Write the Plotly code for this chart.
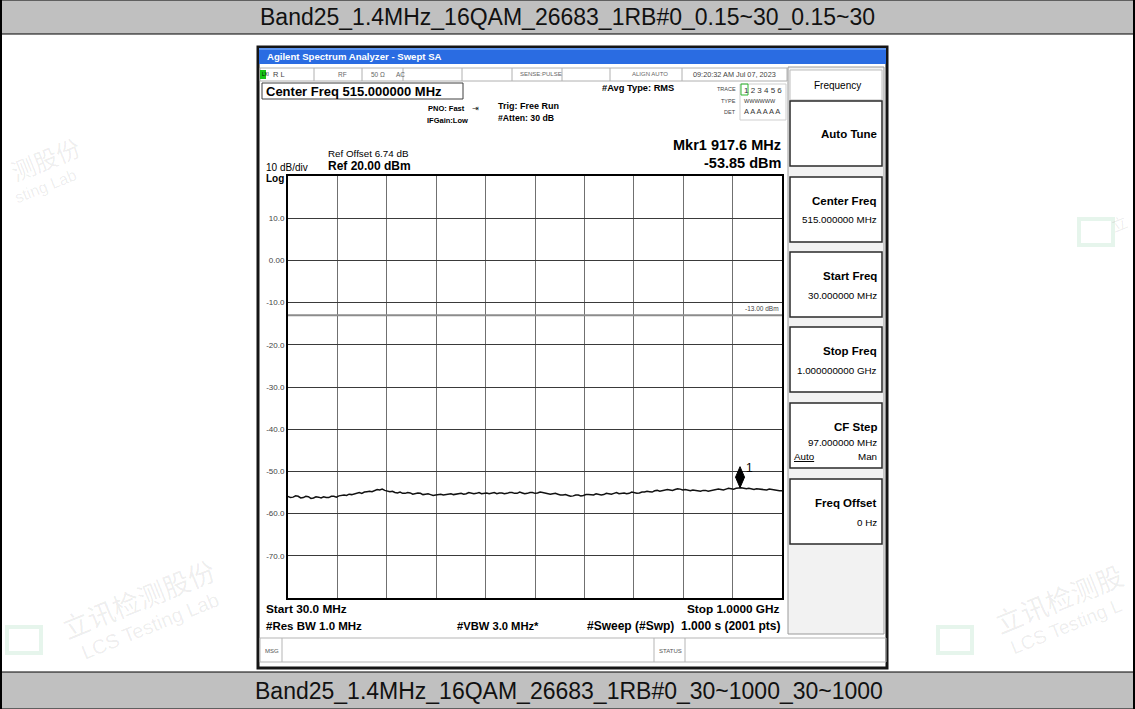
import plotly.graph_objects as go

W, H = 1135, 709

# ---------------- data ----------------
title_top = "Band25_1.4MHz_16QAM_26683_1RB#0_0.15~30_0.15~30"
title_bottom = "Band25_1.4MHz_16QAM_26683_1RB#0_30~1000_30~1000"

start_mhz = 30.0
stop_mhz = 1000.0
ref_level = 20.0
bottom_level = -80.0
limit_dbm = -13.0
mkr_freq = 917.6
mkr_level = -53.85

ytick_vals = [10, 0, -10, -20, -30, -40, -50, -60, -70]
ytick_text = ["10.0", "0.00", "-10.0", "-20.0", "-30.0", "-40.0", "-50.0", "-60.0", "-70.0"]

trace_freq = list(range(30, 1001, 5))
trace_level = [
    -55.9, -56.2, -56.1, -55.8, -55.9, -56.3, -56.2, -55.9, -56.0, -56.4,
    -56.3, -56.0, -56.1, -56.3, -56.0, -56.2, -56.2, -55.9, -55.9, -56.1,   # 30-125
    -55.8, -55.7, -55.6, -55.7, -55.4, -55.5, -55.3, -55.1, -55.0, -55.2,
    -54.9, -54.8, -54.7, -54.8, -54.5, -54.3, -54.4, -54.2, -54.5, -54.6,   # 130-225
    -54.8, -54.7, -55.0, -55.1, -54.9, -55.2, -55.2, -55.0, -55.1, -55.4,
    -55.3, -55.1, -55.2, -55.5, -55.4, -55.3, -55.5, -55.7, -55.6, -55.5,   # 230-325
    -55.4, -55.6, -55.5, -55.3, -55.3, -55.5, -55.4, -55.2, -55.2, -55.4,
    -55.3, -55.0, -55.1, -55.3, -55.2, -55.0, -55.3, -55.2, -55.1, -55.3,   # 330-425
    -55.2, -55.0, -55.3, -55.1, -55.1, -55.3, -55.2, -55.0, -55.0, -55.2,
    -55.2, -54.9, -55.1, -55.3, -55.2, -55.0, -55.0, -55.2, -55.1, -54.9,   # 430-525
    -55.0, -55.1, -55.2, -55.4, -55.3, -55.2, -55.4, -55.6, -55.6, -55.5,
    -55.7, -55.9, -55.8, -55.6, -55.6, -55.8, -55.7, -55.5, -55.5, -55.6,   # 530-625
    -55.6, -55.3, -55.4, -55.6, -55.5, -55.2, -55.3, -55.4, -55.2, -55.0,
    -55.3, -55.2, -55.1, -55.3, -55.2, -54.9, -55.0, -55.2, -55.1, -54.9,   # 630-725
    -54.9, -54.7, -54.8, -54.9, -54.6, -54.5, -54.7, -54.6, -54.5, -54.3,
    -54.4, -54.5, -54.3, -54.1, -54.2, -54.4, -54.3, -54.5, -54.6, -54.4,   # 730-825
    -54.5, -54.7, -54.7, -54.5, -54.5, -54.7, -54.6, -54.4, -54.4, -54.2,
    -54.3, -54.4, -54.2, -54.0, -54.1, -54.2, -54.0, -53.9, -53.9, -54.0,   # 830-925
    -54.1, -54.0, -54.2, -54.3, -54.1, -54.2, -54.3, -54.4, -54.4, -54.2,
    -54.3, -54.5, -54.5, -54.6, -54.6,                                       # 930-1000
]

softkey_titles = ["Auto Tune", "Center Freq", "Start Freq", "Stop Freq", "CF Step", "Freq Offset"]
softkey_values = ["", "515.000000 MHz", "30.000000 MHz", "1.000000000 GHz", "97.000000 MHz", "0 Hz"]

# ---------------- helpers ----------------
ARIAL = "Liberation Sans, Arial, sans-serif"
CJK = "Noto Sans CJK SC, sans-serif"

shapes = []
annotations = []


def px(x):
    return x / W


def py(y):
    return 1 - y / H


def rect(x0, y0, x1, y1, fill=None, line=None, lw=1, layer="above"):
    shapes.append(dict(
        type="rect", xref="paper", yref="paper",
        x0=px(x0), x1=px(x1), y0=py(y1), y1=py(y0),
        fillcolor=fill if fill else "rgba(0,0,0,0)",
        line=dict(color=line if line else "rgba(0,0,0,0)", width=lw if line else 0),
        layer=layer,
    ))


def hline(x0, x1, y, color, lw=1, layer="above"):
    shapes.append(dict(type="line", xref="paper", yref="paper",
                       x0=px(x0), x1=px(x1), y0=py(y), y1=py(y),
                       line=dict(color=color, width=lw), layer=layer))


def vline(x, y0, y1, color, lw=1, layer="above"):
    shapes.append(dict(type="line", xref="paper", yref="paper",
                       x0=px(x), x1=px(x), y0=py(y0), y1=py(y1),
                       line=dict(color=color, width=lw), layer=layer))


def txt(x, y, s, size, bold=False, anchor="left", color="black", family=ARIAL, angle=0):
    annotations.append(dict(
        x=px(x), y=py(y), xref="paper", yref="paper",
        text=("<b>%s</b>" % s) if bold else s,
        showarrow=False, xanchor=anchor, yanchor="middle",
        font=dict(size=size, color=color, family=family),
        textangle=angle,
    ))


# ---------------- page frame ----------------
rect(0, 0, W, 34, fill="#c0c0c0", line="black", lw=1, layer="below")
rect(0, 672, W, H, fill="#c0c0c0", line="black", lw=1, layer="below")
vline(1, 0, H, "black", 2, layer="below")
vline(W - 1, 0, H, "black", 2, layer="below")
txt(567, 17, title_top, 23, anchor="center", color="#111")
txt(569, 691, title_bottom, 23, anchor="center", color="#111")

# faint watermarks (visible parts only)
wm_col = "rgba(0,0,0,0.08)"
wm_logo = "rgba(90,190,130,0.15)"
txt(45, 158, "测股份", 24, family=CJK, anchor="center", color=wm_col, angle=-22)
txt(45, 186, "sting Lab", 16, anchor="center", color=wm_col, angle=-22)
txt(138, 598, "立讯检测股份", 27, family=CJK, anchor="center", color=wm_col, angle=-22)
txt(150, 626, "LCS Testing Lab", 20, anchor="center", color=wm_col, angle=-22)
txt(1058, 598, "立讯检测股", 27, family=CJK, anchor="center", color=wm_col, angle=-22)
txt(1066, 626, "LCS Testing L", 19, anchor="center", color=wm_col, angle=-22)
txt(1119, 223, "立", 16, family=CJK, anchor="center", color=wm_col, angle=-22)
for (lx, ly) in [(24, 640), (955, 640), (1096, 232)]:
    rect(lx - 17, ly - 13, lx + 17, ly + 13, line=wm_logo, lw=4, layer="below")

# ---------------- analyzer window ----------------
rect(258, 47, 887, 668, fill="white", line="#151515", lw=3, layer="below")
rect(259, 48, 886, 64, fill="#2a6ce2", layer="below")
hline(259, 886, 49, "#5d95f0", 2, layer="below")
txt(265, 57, "Agilent Spectrum Analyzer - Swept SA", 9.6, bold=True, color="white")

# status row
rect(260, 68, 787, 81, fill="white", line="#b0b0b0", lw=1, layer="below")
rect(260, 70, 266, 79, fill="#19c419", layer="below")
txt(260, 74.5, "LXI", 4.5, color="#000")
txt(271, 74.5, "R L", 7.5, color="#444")
for sx in [314, 362, 403, 462, 512, 562, 610, 682]:
    vline(sx, 68, 81, "#b0b0b0", 1)
txt(336, 74.5, "RF", 6.5, color="#666")
txt(369, 74.5, "50 Ω", 6.5, color="#666")
txt(394, 74.5, "AC", 6.5, color="#666")
txt(541, 74.5, "SENSE:PULSE", 6, color="#666", anchor="center")
txt(650, 74.5, "ALIGN AUTO", 6, color="#666", anchor="center")
txt(734, 74.5, "09:20:32 AM Jul 07, 2023", 7.3, color="#444", anchor="center")

# center freq box
rect(262, 83, 463, 99, line="#404040", lw=1)
txt(264, 91, "Center Freq 515.000000 MHz", 13, bold=True)

txt(467, 109, "PNO: Fast", 7.5, bold=True, anchor="right")
txt(470, 109, "⇥", 8, color="#222")
txt(470, 121, "IFGain:Low", 7.5, bold=True, anchor="right")
txt(496, 106, "Trig: Free Run", 9, bold=True)
txt(496, 118, "#Atten: 30 dB", 8.7, bold=True)
txt(600, 88, "#Avg Type: RMS", 9.3, bold=True)

rect(740, 84, 786, 120, line="#cfcfcf", lw=1)
txt(738, 89, "TRACE", 5.5, anchor="right", color="#444")
txt(738, 101, "TYPE", 5.5, anchor="right", color="#444")
txt(738, 112, "DET", 5.5, anchor="right", color="#444")
rect(741, 84, 748, 95, line="#2fb52f", lw=1)
txt(742, 90, "1 2 3 4 5 6", 8, color="#333")
txt(742, 101, "WWWWWW", 5.5, color="#333")
txt(742, 112, "A A A A A A", 7.5, color="#333")

txt(783, 145, "Mkr1 917.6 MHz", 14.5, bold=True, anchor="right")
txt(783, 163, "-53.85 dBm", 14.5, bold=True, anchor="right")
txt(326, 153, "Ref Offset 6.74 dB", 9.8)
txt(326, 166, "Ref 20.00 dBm", 12, bold=True)
txt(264, 168, "10 dB/div", 10)
txt(264, 178, "Log", 10, bold=True)

# bottom info
txt(264, 609, "Start 30.0 MHz", 11.8, bold=True)
txt(782, 609, "Stop 1.0000 GHz", 11.8, bold=True, anchor="right")
txt(264, 626, "#Res BW 1.0 MHz", 11.5, bold=True)
txt(455, 626, "#VBW 3.0 MHz*", 11.2, bold=True)
txt(782, 626, "#Sweep (#Swp)  1.000 s (2001 pts)", 12, bold=True, anchor="right")

# msg row
rect(260, 638, 886, 662, line="#b5b5b5", lw=1)
vline(282, 638, 662, "#b5b5b5")
vline(654, 638, 662, "#b5b5b5")
vline(685, 638, 662, "#b5b5b5")
txt(263, 651, "MSG", 6, color="#555")
txt(657, 651, "STATUS", 6, color="#555")

# softkey panel
rect(788, 67, 884, 634, fill="#f2f2f2", line="#9a9a9a", lw=1, layer="below")
rect(790, 70, 882, 100, fill="white", line="#bdbdbd", lw=1)
txt(837, 85, "Frequency", 10, anchor="center")
box_tops = [101, 177, 252, 327, 403, 479]
box_h = 65
for i, (t, v) in enumerate(zip(softkey_titles, softkey_values)):
    y0 = box_tops[i]
    rect(790, y0, 882, y0 + box_h, fill="white", line="#2a2a2a", lw=1.5)
    if v:
        txt(879, y0 + 24, t, 11.5, bold=True, anchor="right")
        txt(879, y0 + 43 if t != "CF Step" else y0 + 39, v, 9.8, anchor="right")
    else:
        txt(879, y0 + 33, t, 11.5, bold=True, anchor="right")
txt(792, 456, "<u>Auto</u>", 9.8)
txt(879, 456, "Man", 9.8, anchor="right")

# ---------------- plot ----------------
fig = go.Figure()
fig.add_trace(go.Scatter(
    x=[start_mhz, stop_mhz], y=[limit_dbm, limit_dbm], mode="lines",
    line=dict(color="#8c8c8c", width=2), hoverinfo="skip", showlegend=False))
fig.add_trace(go.Scatter(
    x=trace_freq, y=trace_level, mode="lines",
    line=dict(color="#111111", width=1.5), showlegend=False))

# marker diamond (bottom tip on the marker point)
shapes.append(dict(type="path", xref="x", yref="y", xsizemode="pixel", ysizemode="pixel",
                   xanchor=mkr_freq, yanchor=mkr_level,
                   path="M 0 0 L 4.5 10.5 L 0 21 L -4.5 10.5 Z",
                   fillcolor="black", line=dict(color="black", width=1)))
annotations.append(dict(x=mkr_freq, y=mkr_level, xref="x", yref="y", text="1",
                        showarrow=False, xanchor="left", yanchor="middle",
                        xshift=4, yshift=20, font=dict(size=12, family=ARIAL, color="black")))
annotations.append(dict(x=stop_mhz, y=limit_dbm, xref="x", yref="y", text="-13.00 dBm",
                        showarrow=False, xanchor="right", yanchor="bottom",
                        xshift=-1, yshift=1, font=dict(size=6.5, family=ARIAL, color="#444")))

fig.update_layout(
    width=W, height=H, margin=dict(l=0, r=0, t=0, b=0),
    paper_bgcolor="white", plot_bgcolor="white",
    shapes=shapes, annotations=annotations, showlegend=False,
    xaxis=dict(domain=[px(288), px(782)], range=[start_mhz, stop_mhz],
               tick0=start_mhz, dtick=(stop_mhz - start_mhz) / 10,
               showgrid=True, gridcolor="#707070", gridwidth=1,
               showticklabels=False, ticks="", zeroline=False,
               showline=True, linecolor="black", linewidth=2, mirror=True),
    yaxis=dict(domain=[py(598), py(176)], range=[bottom_level, ref_level],
               tickvals=ytick_vals, ticktext=ytick_text,
               showgrid=True, gridcolor="#3a3a3a", gridwidth=1,
               ticks="", zeroline=False,
               tickfont=dict(size=8, family=ARIAL, color="#444"),
               showline=True, linecolor="black", linewidth=2, mirror=True),
)

fig.write_html("out.html", config={"displayModeBar": False},
               post_script="document.body.style.margin='0px';document.body.style.overflow='hidden';")
